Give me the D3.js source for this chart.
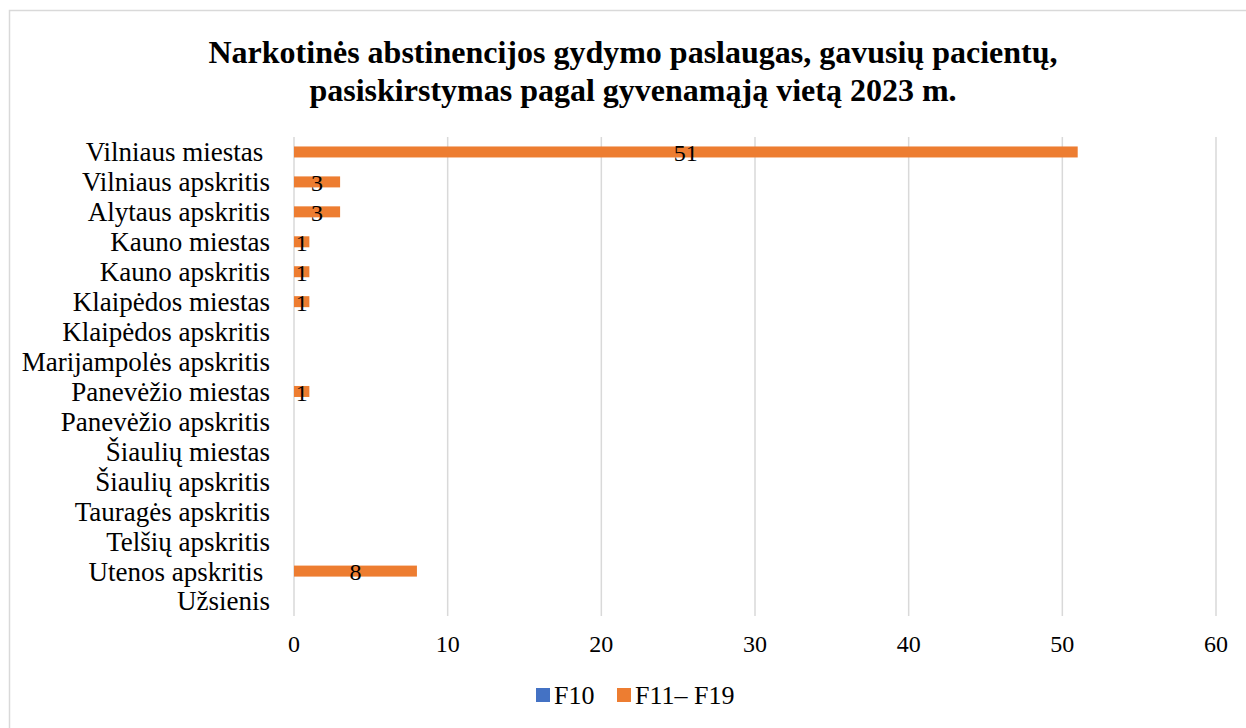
<!DOCTYPE html>
<html>
<head>
<meta charset="utf-8">
<script src="https://cdn.jsdelivr.net/npm/d3@7"></script>
<style>
  body { margin: 0; background: #fff; }
  svg text { font-family: "Liberation Serif", "Times New Roman", serif; fill: #000; }
</style>
</head>
<body>
<svg id="chart" width="1246" height="728"></svg>
<script>
const categories = [
  "Vilniaus miestas ", "Vilniaus apskritis", "Alytaus apskritis", "Kauno miestas",
  "Kauno apskritis", "Klaipėdos miestas", "Klaipėdos apskritis", "Marijampolės apskritis",
  "Panevėžio miestas", "Panevėžio apskritis", "Šiaulių miestas", "Šiaulių apskritis",
  "Tauragės apskritis", "Telšių apskritis", "Utenos apskritis ", "Užsienis"
];
const f10 = [null, null, null, null, null, null, null, null, null, null, null, null, null, null, null, null];
const f11f19 = [51, 3, 3, 1, 1, 1, null, null, 1, null, null, null, null, null, 8, null];
const xTicks = [0, 10, 20, 30, 40, 50, 60];
const seriesNames = ["F10", "F11– F19"];
const colors = ["#4472C4", "#ED7D31"];
const titleLines = [
  "Narkotinės abstinencijos gydymo paslaugas, gavusių pacientų,",
  "pasiskirstymas pagal gyvenamąją vietą 2023 m."
];

const svg = d3.select("#chart");

// outer chart border (only left/top visible in frame)
svg.append("rect")
  .attr("x", 9.5).attr("y", 10.5)
  .attr("width", 1260).attr("height", 740)
  .attr("fill", "none")
  .attr("stroke", "#d9d9d9")
  .attr("stroke-width", 1.5);

svg.selectAll(".title").data(titleLines).enter()
  .append("text")
  .classed("title", true)
  .attr("x", 633)
  .attr("y", (d, i) => 63 + i * 38)
  .attr("text-anchor", "middle")
  .style("font-size", "32px")
  .style("font-weight", "bold")
  .text(d => d);

const x = d3.scaleLinear().domain([0, 60]).range([294, 1216]);
const y = d3.scaleBand().domain(categories).range([137, 616]);

// gridlines
svg.selectAll(".grid").data(xTicks).enter()
  .append("line")
  .classed("grid", true)
  .attr("x1", d => x(d)).attr("x2", d => x(d))
  .attr("y1", 137).attr("y2", 616)
  .attr("stroke", "#d9d9d9")
  .attr("stroke-width", 1.5);

// x tick labels
svg.selectAll(".xtick").data(xTicks).enter()
  .append("text")
  .classed("xtick", true)
  .attr("x", d => x(d))
  .attr("y", 652)
  .attr("text-anchor", "middle")
  .style("font-size", "24px")
  .text(d => d);

// category labels
svg.selectAll(".cat").data(categories).enter()
  .append("text")
  .classed("cat", true)
  .attr("x", 270)
  .attr("y", d => y(d) + y.bandwidth() / 2)
  .attr("dy", "0.35em")
  .attr("text-anchor", "end")
  .style("font-size", "27px")
  .style("white-space", "pre")
  .text(d => d);

const barH = 11;
const bars = categories.map((c, i) => ({c, v: f11f19[i], f10: f10[i]}));

svg.selectAll(".bar10").data(bars.filter(d => d.f10 != null)).enter()
  .append("rect")
  .attr("x", x(0))
  .attr("y", d => y(d.c) + y.bandwidth() / 2 - barH / 2)
  .attr("width", d => x(d.f10) - x(0))
  .attr("height", barH)
  .attr("fill", colors[0]);

svg.selectAll(".bar").data(bars.filter(d => d.v != null)).enter()
  .append("rect")
  .classed("bar", true)
  .attr("x", x(0))
  .attr("y", d => y(d.c) + y.bandwidth() / 2 - barH / 2)
  .attr("width", d => x(d.v) - x(0))
  .attr("height", barH)
  .attr("fill", colors[1]);

svg.selectAll(".lbl").data(bars.filter(d => d.v != null)).enter()
  .append("text")
  .classed("lbl", true)
  .attr("x", d => x(d.v / 2))
  .attr("y", d => y(d.c) + y.bandwidth() / 2 + 1)
  .attr("dy", "0.35em")
  .attr("text-anchor", "middle")
  .style("font-size", "24px")
  .text(d => d.v);

// legend
const legendX = [536, 617];
const legend = svg.selectAll(".legend").data(seriesNames).enter()
  .append("g")
  .attr("transform", (d, i) => `translate(${legendX[i]},695)`);
legend.append("rect")
  .attr("x", 0).attr("y", -7)
  .attr("width", 14).attr("height", 14)
  .attr("fill", (d, i) => colors[i]);
legend.append("text")
  .attr("x", 18).attr("y", 0)
  .attr("dy", "0.35em")
  .style("font-size", "26px")
  .text(d => d);
</script>
</body>
</html>
